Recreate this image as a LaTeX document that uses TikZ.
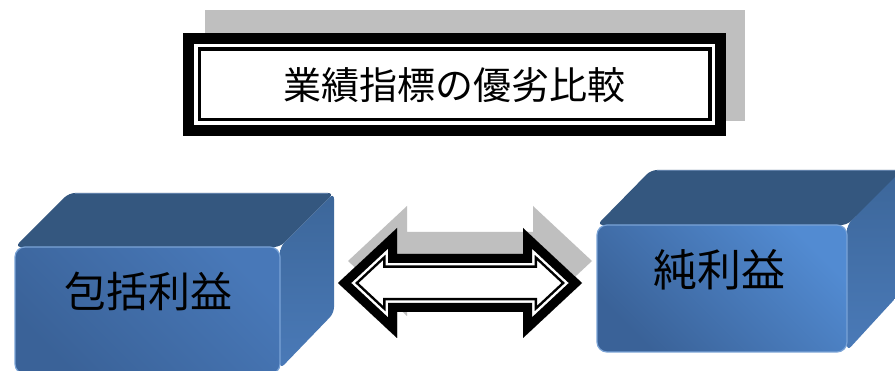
\documentclass[tikz,border=0pt]{standalone}
\usepackage{fontspec}
\newfontfamily\jp{Noto Sans CJK JP}
\definecolor{shadowgray}{HTML}{BFBFBF}
\definecolor{topface}{HTML}{34577F}
\definecolor{topedge}{HTML}{5F7FA8}
\definecolor{sidedark}{HTML}{3C6699}
\definecolor{sidecolor}{HTML}{4A7AB8}
\definecolor{frontlight}{HTML}{528BD2}
\definecolor{frontmid}{HTML}{4878B8}
\definecolor{frontdark}{HTML}{3A6298}
\definecolor{edgelight}{HTML}{7AA3D6}
\tikzset{
  arrowshape/.style={insert path={(338,283) -- (397,228) -- (397,254) -- (523,254) -- (523,228) -- (582,283) -- (523,338) -- (523,312) -- (397,312) -- (397,338) -- cycle}},
  topside/.style={fill=topface, rounded corners=6},
  rightside/.style={top color=sidedark, bottom color=sidecolor, rounded corners=6},
  boxtext/.style={text=black, inner sep=0pt}
}
\begin{document}
\begin{tikzpicture}[x=1pt,y=-1pt]
\useasboundingbox (0,0) rectangle (895,371);
\clip (0,0) rectangle (895,371);
\fill[white] (0,0) rectangle (895,371);

% title with shadow and double frame
\fill[shadowgray] (205,10) rectangle (745,121);
\fill[black] (183,33) rectangle (726,136);
\fill[white] (194,44) rectangle (715,125);
\fill[black] (197.5,47.5) rectangle (711.5,121.5);
\fill[white] (201,51) rectangle (708,118);
\node[boxtext, font=\jp\fontsize{38}{40}\selectfont] (title) at (454.5,85.5) {業績指標の優劣比較};

% double arrow with shadow
\fill[shadowgray, shift={(10,-22)}, arrowshape];
\begin{scope}
  \clip[arrowshape];
  \fill[white, arrowshape];
  \draw[black, line width=28, arrowshape];
  \draw[white, line width=23, arrowshape];
  \draw[black, line width=18, arrowshape];
\end{scope}

% left box
\path[topside] (15,247) -- (69,193) -- (334,193) -- (280,247) -- cycle;
\draw[topedge, line width=1.2] (75,193.6) -- (328,193.6);
\shade[rightside] (280,247) -- (334,193) -- (334,313) -- (280,369) -- cycle;
\shade[rounded corners=10, top color=frontmid, middle color=frontlight, bottom color=frontdark, shading angle=-45, draw=edgelight, line width=1.2] (15,247) rectangle (280,374);
\node[boxtext, font=\jp\fontsize{42}{44}\selectfont] (lbox) at (148,291.5) {包括利益};

% right box
\path[topside] (597,225) -- (651,170) -- (905,170) -- (847,225) -- cycle;
\draw[topedge, line width=1.2] (657,170.6) -- (900,170.6);
\shade[rightside] (847,225) -- (903,169) -- (903,290) -- (847,351) -- cycle;
\shade[rounded corners=10, top color=frontlight, middle color=frontmid, bottom color=frontdark, shading angle=-45, draw=edgelight, line width=1.2] (597,225) rectangle (847,352);
\node[boxtext, font=\jp\fontsize{44}{46}\selectfont] (rbox) at (719,270) {純利益};
\end{tikzpicture}
\end{document}
